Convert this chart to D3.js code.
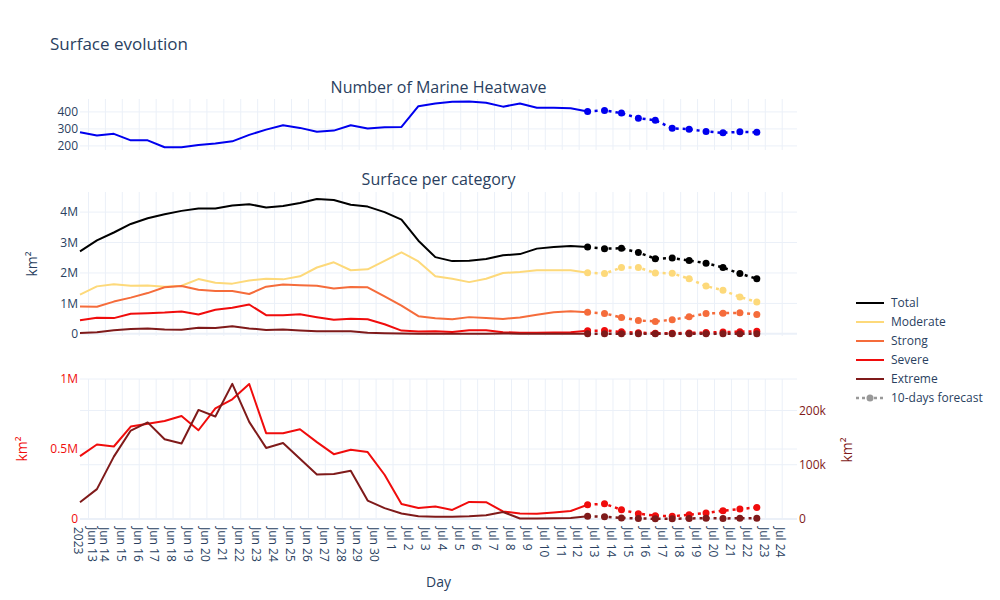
<!DOCTYPE html>
<html><head><meta charset="utf-8">
<script src="https://cdn.jsdelivr.net/npm/d3@7"></script>
<style>body{margin:0;background:#fff;} text{font-family:"Open Sans",sans-serif;}</style>
</head><body><svg id="c" width="1000" height="600"></svg>
<script>
const days = ["2023-06-12","2023-06-13","2023-06-14","2023-06-15","2023-06-16","2023-06-17","2023-06-18","2023-06-19","2023-06-20","2023-06-21",
"2023-06-22","2023-06-23","2023-06-24","2023-06-25","2023-06-26","2023-06-27","2023-06-28","2023-06-29","2023-06-30","2023-07-01",
"2023-07-02","2023-07-03","2023-07-04","2023-07-05","2023-07-06","2023-07-07","2023-07-08","2023-07-09","2023-07-10","2023-07-11",
"2023-07-12","2023-07-13","2023-07-14","2023-07-15","2023-07-16","2023-07-17","2023-07-18","2023-07-19","2023-07-20","2023-07-21","2023-07-22"];
const forecastStart = 30; // index of first forecast point (Jul 12)
const tickDays = ["2023-06-13","2023-06-14","2023-06-15","2023-06-16","2023-06-17","2023-06-18","2023-06-19","2023-06-20","2023-06-21","2023-06-22",
"2023-06-23","2023-06-24","2023-06-25","2023-06-26","2023-06-27","2023-06-28","2023-06-29","2023-06-30","2023-07-01","2023-07-02",
"2023-07-03","2023-07-04","2023-07-05","2023-07-06","2023-07-07","2023-07-08","2023-07-09","2023-07-10","2023-07-11","2023-07-12",
"2023-07-13","2023-07-14","2023-07-15","2023-07-16","2023-07-17","2023-07-18","2023-07-19","2023-07-20","2023-07-21","2023-07-22","2023-07-23","2023-07-24"];

const countMHW = [280,261,271,233,233,192,192,206,214,227,265,296,322,306,283,290,322,302,310,312,434,450,460,462,454,431,449,425,425,421,403,
  409,393,363,351,304,298,285,277,283,280];
const total = [2.71,3.07,3.33,3.61,3.80,3.93,4.04,4.12,4.12,4.22,4.26,4.15,4.20,4.30,4.43,4.40,4.24,4.18,4.00,3.75,3.06,2.52,2.39,2.40,2.46,2.58,2.62,2.80,2.85,2.89,2.85,
  2.80,2.81,2.67,2.47,2.49,2.41,2.32,2.18,1.98,1.81];
const moderate = [1.29,1.56,1.63,1.58,1.59,1.55,1.58,1.80,1.68,1.65,1.75,1.81,1.79,1.89,2.18,2.35,2.09,2.12,2.40,2.68,2.38,1.89,1.81,1.70,1.81,2.00,2.03,2.09,2.09,2.09,2.01,
  1.98,2.18,2.18,2.00,1.99,1.81,1.57,1.43,1.21,1.05];
const strong = [0.90,0.89,1.06,1.19,1.34,1.53,1.57,1.45,1.41,1.41,1.31,1.55,1.62,1.60,1.58,1.49,1.54,1.53,1.23,0.93,0.58,0.51,0.48,0.55,0.52,0.49,0.54,0.63,0.71,0.74,0.71,
  0.67,0.54,0.44,0.41,0.46,0.56,0.67,0.68,0.69,0.64];
const severe = [0.449,0.532,0.518,0.66,0.68,0.70,0.736,0.634,0.79,0.855,0.964,0.613,0.613,0.641,0.549,0.463,0.494,0.478,0.316,0.107,0.078,0.09,0.065,0.122,0.12,0.054,0.04,0.038,0.047,0.057,0.102,
  0.109,0.066,0.038,0.024,0.019,0.031,0.043,0.059,0.071,0.083];
const extreme = [31,55,115,163,178,147,139,201,189,249,179,131,140,111,82,83,89,34,20,10,5,4,4,5,7,13,1,1,1.5,2,5,
  4,2,1,0.5,0.5,1,1.5,1,1.5,1.5];

const seriesNames = ["Total","Moderate","Strong","Severe","Extreme"];
const seriesColors = ["#000000","#fdd97a","#f56c3b","#f00c0c","#7f1a1a"];
const forecastLabel = "10-days forecast";

const svg = d3.select("#c");
const txt = "#2a3f5f", grid = "#ebf0f8";
const parse = d3.utcParse("%Y-%m-%d");
const dates = days.map(parse);
const startX = d3.utcHour.offset(dates[0], 12);
const x = d3.scaleUtc().domain([startX, d3.utcHour.offset(startX, 42.38*24)]).range([80, 797]);
const px = i => x(d3.utcHour.offset(dates[i], 12));
const L = 80, R = 797;

// Panels
const yTop = d3.scaleLinear().domain([176, 476]).range([150, 99]);
const yMid = d3.scaleLinear().domain([-0.07, 4.66]).range([336, 192]);
const yBotL = d3.scaleLinear().domain([0, 1.0]).range([519, 379]);
const yBotR = d3.scaleLinear().domain([0, 258]).range([519, 379]);

function vgrid(y0, y1){
  svg.append("g").selectAll("line").data(tickDays).join("line")
    .attr("x1", d=>x(parse(d))).attr("x2", d=>x(parse(d))).attr("y1", y0).attr("y2", y1)
    .attr("stroke", grid).attr("stroke-width", 1);
}
function hgrid(scale, vals, w){
  svg.append("g").selectAll("line").data(vals).join("line")
    .attr("x1", L).attr("x2", R).attr("y1", d=>scale(d)).attr("y2", d=>scale(d))
    .attr("stroke", grid).attr("stroke-width", w||1);
}
function yLabels(scale, vals, fmt, color, xp, anchor){
  svg.append("g").selectAll("text").data(vals).join("text")
    .attr("x", xp).attr("y", d=>scale(d)).attr("dy","0.35em").attr("text-anchor", anchor||"end")
    .attr("fill", color).attr("font-size", 12).text(fmt);
}
vgrid(99,150); vgrid(192,336); vgrid(379,519);
hgrid(yTop,[200,300,400]);
hgrid(yMid,[1,2,3,4]); hgrid(yMid,[0],2);
hgrid(yBotL,[0.5,1]); hgrid(yBotR,[100,200]); hgrid(yBotL,[0],2);

yLabels(yTop,[200,300,400], d=>d, txt, 78);
yLabels(yMid,[0,1,2,3,4], d=> d===0?"0":d+"M", txt, 78);
yLabels(yBotL,[0,0.5,1], d=> d===0?"0":d+"M", "#f00c0c", 78);
yLabels(yBotR,[0,100,200], d=> d===0?"0":d+"k", "#7f1a1a", 799, "start");

function rotTitle(xp, yp, color){
  svg.append("text").attr("transform",`translate(${xp},${yp}) rotate(-90)`).attr("text-anchor","middle")
    .attr("fill",color).attr("font-size",14).text("km²");
}
rotTitle(37, 264, txt); rotTitle(27, 449, "#f00c0c"); rotTitle(852, 450, "#7f1a1a");

// titles
svg.append("text").attr("x",50).attr("y",50).attr("fill",txt).attr("font-size",17).text("Surface evolution");
svg.append("text").attr("x",(L+R)/2).attr("y",93).attr("text-anchor","middle").attr("fill",txt).attr("font-size",16).text("Number of Marine Heatwave");
svg.append("text").attr("x",(L+R)/2).attr("y",185).attr("text-anchor","middle").attr("fill",txt).attr("font-size",16).text("Surface per category");
svg.append("text").attr("x",(L+R)/2).attr("y",587).attr("text-anchor","middle").attr("fill",txt).attr("font-size",14).text("Day");

// x tick labels
const fmtDay = d3.utcFormat("%b %-d");
tickDays.forEach((d,i)=>{
  const xx = x(parse(d));
  const lines = i===0 ? [fmtDay(parse(d)), "2023"] : [fmtDay(parse(d))];
  lines.forEach((s,j)=>{
    const off = i===0 ? (j===0 ? 4 : -10.5) : -1.5;
    svg.append("text").attr("transform",`translate(${xx + off},527) rotate(90)`)
      .attr("dy","0.35em").attr("fill",txt).attr("font-size",12).text(s);
  });
});

function drawSeries(vals, yScale, color){
  const obs = d3.range(0, forecastStart+1), fc = d3.range(forecastStart, vals.length);
  const line = d3.line().x(i=>px(i)).y(i=>yScale(vals[i]));
  svg.append("path").attr("d", line(obs)).attr("fill","none").attr("stroke",color).attr("stroke-width",2).attr("stroke-linejoin","round");
  svg.append("path").attr("d", line(fc)).attr("fill","none").attr("stroke",color).attr("stroke-width",2.5).attr("stroke-dasharray","3,4");
  svg.append("g").selectAll("circle").data(fc).join("circle").attr("cx",i=>px(i)).attr("cy",i=>yScale(vals[i])).attr("r",3.5).attr("fill",color);
}
drawSeries(countMHW, yTop, "#0000ee");
[total, moderate, strong, severe, extreme].forEach((s,k)=>{
  const sc = k===4 ? d3.scaleLinear().domain([0,1]).range([yMid(0), yMid(0.001)]) : yMid;
  drawSeries(s, sc, seriesColors[k]);
});
drawSeries(severe, yBotL, seriesColors[3]);
drawSeries(extreme, yBotR, seriesColors[4]);

// legend
const lg = svg.append("g");
seriesNames.concat([forecastLabel]).forEach((n,i)=>{
  const yy = 303 + i*19;
  const isF = i===5;
  lg.append("line").attr("x1",856).attr("x2",884).attr("y1",yy).attr("y2",yy)
    .attr("stroke", isF ? "#999" : seriesColors[i]).attr("stroke-width", isF?2.5:2).attr("stroke-dasharray", isF?"3,3":null);
  if(isF) lg.append("circle").attr("cx",870).attr("cy",yy).attr("r",3.5).attr("fill","#999");
  lg.append("text").attr("x",891).attr("y",yy).attr("dy","0.35em").attr("fill",txt).attr("font-size",12).text(n);
});
</script></body></html>
